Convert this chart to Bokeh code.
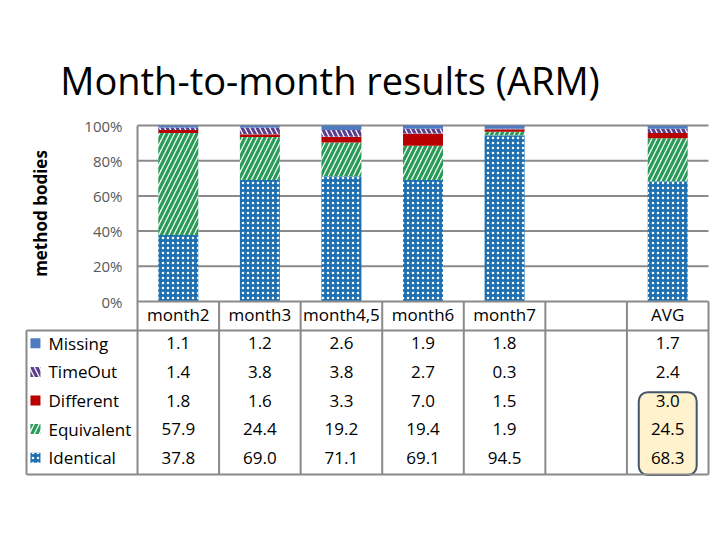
import numpy as np
from bokeh.plotting import figure
from bokeh.models import BoxAnnotation, ColumnDataSource
from bokeh.core.properties import value
from bokeh.embed import file_html
from bokeh.resources import INLINE

# ---------------- data ----------------
categories = ["month2", "month3", "month4,5", "month6", "month7", "", "AVG"]
bar_categories = ["month2", "month3", "month4,5", "month6", "month7", "AVG"]
series_names = ["Missing", "TimeOut", "Different", "Equivalent", "Identical"]
missing    = [1.1, 1.2, 2.6, 1.9, 1.8, 1.7]
timeout    = [1.4, 3.8, 3.8, 2.7, 0.3, 2.4]
different  = [1.8, 1.6, 3.3, 7.0, 1.5, 3.0]
equivalent = [57.9, 24.4, 19.2, 19.4, 1.9, 24.5]
identical  = [37.8, 69.0, 71.1, 69.1, 94.5, 68.3]
y_ticks = [0, 20, 40, 60, 80, 100]
y_tick_labels = ["0%", "20%", "40%", "60%", "80%", "100%"]
title_text = "Month-to-month results (ARM)"
y_label = "method bodies"

FONT = "Open Sans"

# ---------------- styles ----------------
styles = {
    "Identical":  dict(fill_color="#1E70B2", hatch_pattern="dot", hatch_color="white", hatch_scale=5, hatch_weight=1.6),
    "Equivalent": dict(fill_color="#F2FBF6", hatch_pattern="right_diagonal_line", hatch_color="#2A9A58", hatch_scale=10, hatch_weight=3.2),
    "Different":  dict(fill_color="#B80000"),
    "TimeOut":    dict(fill_color="white", hatch_pattern="left_diagonal_line", hatch_color="#5B3F8C", hatch_scale=10, hatch_weight=3.2),
    "Missing":    dict(fill_color="#4F7CC0"),
}

p = figure(width=712, height=532, output_backend="svg", toolbar_location=None,
           x_axis_type=None, y_axis_type=None,
           x_range=(-1.9344, 6.549), y_range=(-101.70, 153.98),
           min_border_left=20, min_border_right=0, min_border_top=30, min_border_bottom=52)
p.outline_line_color = None
p.background_fill_color = "white"
p.border_fill_color = "white"

GRID = "#8A8A8A"
n_cat = len(categories)
x_left_edge = -0.5
x_right_edge = n_cat - 0.5
legend_left = -1.861
text_dy = 0.9  # lift text slightly (in y units)

# gridlines (above 0)
gy = [t for t in y_ticks if t > 0]
p.segment(x0=[x_left_edge] * len(gy), x1=[x_right_edge] * len(gy), y0=gy, y1=gy,
          line_color=GRID, line_width=2)

# stacked bars
xpos = np.array([categories.index(c) for c in bar_categories], dtype=float)
stack_order = [("Identical", identical), ("Equivalent", equivalent), ("Different", different),
               ("TimeOut", timeout), ("Missing", missing)]
bottom = np.zeros(len(bar_categories))
for name, vals in stack_order:
    top = bottom + np.array(vals)
    src = ColumnDataSource(dict(x=xpos, bottom=bottom.copy(), top=top))
    p.vbar(x="x", bottom="bottom", top="top", width=0.49, source=src, line_color=None, **styles[name])
    bottom = top

# table geometry
header_bottom = -16.5
table_bottom = -98.3
row_h = (header_bottom - table_bottom) / len(series_names)
row_y = [header_bottom - row_h * (i + 0.5) for i in range(len(series_names))]
text_row_y = [y + text_dy + 0.12 * i for i, y in enumerate(row_y)]
header_y = header_bottom / 2 + text_dy

# highlight box (AVG column, last three rows)
avg_i = categories.index("AVG")
p.add_layout(BoxAnnotation(left=avg_i - 0.355, right=avg_i + 0.355,
                           top=row_y[2] + row_h * 0.36, bottom=row_y[4] - row_h * 0.52,
                           fill_color="#FFF2CC", fill_alpha=1.0, line_color="#44546A",
                           line_alpha=1.0, line_width=2, border_radius=9, level="underlay"))

# table lines
hx0 = [x_left_edge, legend_left, legend_left]
hx1 = [x_right_edge] * 3
hy = [0, header_bottom, table_bottom]
p.segment(x0=hx0, x1=hx1, y0=hy, y1=hy, line_color=GRID, line_width=2)
vx = [legend_left] + [i - 0.5 for i in range(n_cat + 1)]
vy0 = [header_bottom, 100] + [0] * n_cat
p.segment(x0=vx, x1=vx, y0=vy0, y1=[table_bottom] * len(vx), line_color=GRID, line_width=2)

# header labels
p.text(x=list(range(n_cat)), y=[header_y] * n_cat, text=categories,
       text_font=value(FONT), text_font_size="17px", text_align="center",
       text_baseline="middle", text_color="black")

# values
row_vals = {"Missing": missing, "TimeOut": timeout, "Different": different,
            "Equivalent": equivalent, "Identical": identical}
for r, name in enumerate(series_names):
    vals = row_vals[name]
    p.text(x=list(xpos), y=[text_row_y[r]] * len(vals), text=["%.1f" % v for v in vals],
           text_font=value(FONT), text_font_size="17px", text_align="center",
           text_baseline="middle", text_color="black")

# legend column
icon_x = legend_left + 0.11
text_x = legend_left + 0.27
for r, name in enumerate(series_names):
    p.rect(x=[icon_x], y=[text_row_y[r]], width=10, height=10, width_units="screen",
           height_units="screen", line_color=None, **styles[name])
p.text(x=[text_x] * len(series_names), y=text_row_y, text=series_names,
       text_font=value(FONT), text_font_size="17px", text_align="left",
       text_baseline="middle", text_color="black")

# y tick labels
p.text(x=[-0.684] * len(y_ticks), y=y_ticks, text=y_tick_labels,
       text_font=value(FONT), text_font_size="15px", text_align="right",
       text_baseline="middle", text_color="#595959")

# y axis label
p.text(x=[-1.689], y=[50], text=[y_label], angle=np.pi / 2,
       text_font=value(FONT), text_font_size="17px", text_font_style="bold",
       text_align="center", text_baseline="middle", text_color="black")

# title
p.text(x=[1.86], y=[125.6], text=[title_text], text_font=value(FONT), text_font_size="38px",
       text_align="center", text_baseline="middle", text_color="black")

open("out.html", "w").write(file_html(p, INLINE))
